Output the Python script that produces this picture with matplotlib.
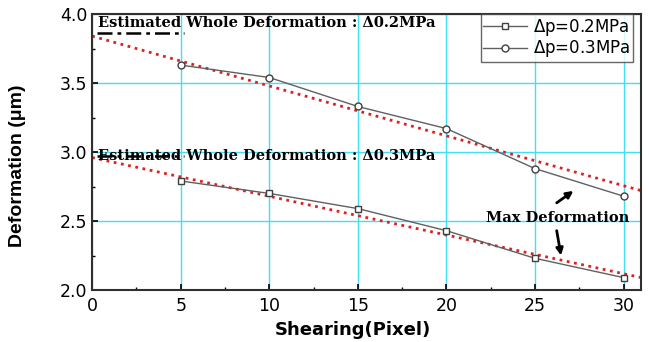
import matplotlib.pyplot as plt
import numpy as np

shear = [5, 10, 15, 20, 25, 30]
dp02 = [2.79, 2.70, 2.59, 2.43, 2.23, 2.09]
dp03 = [3.63, 3.54, 3.33, 3.17, 2.88, 2.68]
fit_x = [0, 31]
fit_upper = [3.84, 2.72]
fit_lower = [2.96, 2.09]

fig = plt.figure(figsize=(6.49, 3.42), dpi=100)
ax = fig.add_axes([0.142, 0.152, 0.846, 0.807])

ax.set_xlim(0, 31)
ax.set_ylim(2.0, 4.0)
ax.set_xticks([0, 5, 10, 15, 20, 25, 30])
ax.set_yticks([2.0, 2.5, 3.0, 3.5, 4.0])
ax.set_xticks(np.arange(2.5, 31, 5), minor=True)
ax.set_yticks(np.arange(2.25, 4.0, 0.5), minor=True)
ax.grid(True, which='major', color='#40e0f0', lw=1.0, zorder=0)

ax.plot(fit_x, fit_upper, ':', color='#e02020', lw=2, zorder=2)
ax.plot(fit_x, fit_lower, ':', color='#e02020', lw=2, zorder=2)

ax.plot(shear, dp02, '-s', color='#606060', mfc='white', mec='#404040', ms=5, lw=1, label=r'$\Delta$p=0.2MPa', zorder=3)
ax.plot(shear, dp03, '-o', color='#606060', mfc='white', mec='#404040', ms=5, lw=1, label=r'$\Delta$p=0.3MPa', zorder=3)

leg = ax.legend(loc='upper right', fontsize=12, frameon=True, fancybox=False, edgecolor='#404040',
                handlelength=2.6, handletextpad=0.4, borderpad=0.15, labelspacing=0.05,
                borderaxespad=0.0, bbox_to_anchor=(0.985, 1.0))
leg.get_frame().set_linewidth(1)

serif = dict(family='DejaVu Serif', fontweight='bold', fontsize=10.5)
ax.text(0.35, 3.985, 'Estimated Whole Deformation : \u03940.2MPa', va='top', **serif)
ax.plot([0.3, 5.2], [3.86, 3.86], color='black', lw=1.8, dashes=[6, 2, 1.5, 2])
ax.text(0.35, 3.025, 'Estimated Whole Deformation : \u03940.3MPa', va='top', **serif)
ax.plot([0.3, 5.2], [2.97, 2.97], color='black', lw=1.8, dashes=[6, 2, 1.5, 2])

ax.text(30.3, 2.52, 'Max Deformation', ha='right', va='center', **serif)
ax.annotate('', xy=(27.3, 2.73), xytext=(26.1, 2.62),
            arrowprops=dict(arrowstyle='-|>', color='black', lw=2, mutation_scale=10))
ax.annotate('', xy=(26.5, 2.23), xytext=(26.2, 2.45),
            arrowprops=dict(arrowstyle='-|>', color='black', lw=2, mutation_scale=10))

for s in ax.spines.values():
    s.set_linewidth(1.5)
    s.set_color('#303030')
ax.tick_params(which='major', direction='in', length=4, width=1.2, labelsize=12.5, top=False, right=False)
ax.tick_params(axis='x', which='major', pad=5)
ax.tick_params(which='minor', direction='in', length=2.5, width=1)
ax.set_xlabel('Shearing(Pixel)', fontsize=13, fontweight='bold', family='DejaVu Sans')
ax.set_ylabel('Deformation (\u03bcm)', fontsize=14, fontweight='bold',
              family=['Liberation Sans', 'DejaVu Sans'])
ax.xaxis.set_label_coords(0.474, -0.112)
ax.yaxis.set_label_coords(-0.12, 0.45)

fig.savefig('out.png', dpi=100)
